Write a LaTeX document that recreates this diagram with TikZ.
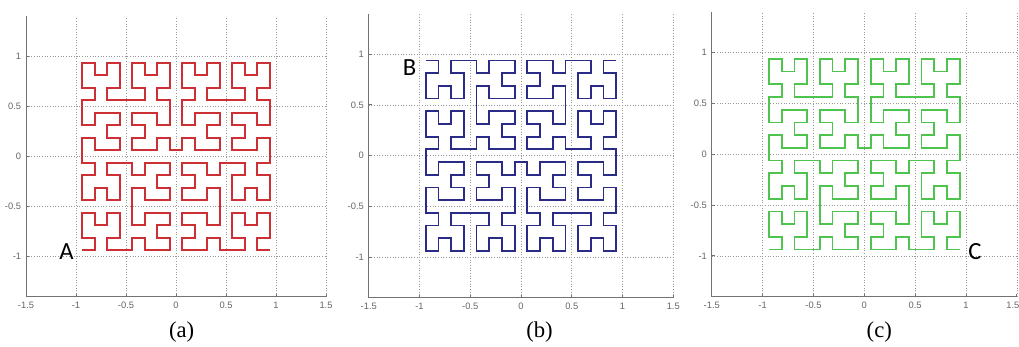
\documentclass[tikz,border=0pt]{standalone}
\usepackage{fontspec}
\setmainfont{Liberation Serif}
\newfontfamily\labfont{Carlito}
\newfontfamily\tickfont{Liberation Sans}
\usetikzlibrary{lindenmayersystems}
\pgfdeclarelindenmayersystem{Hilbert curve}{
  \rule{L -> +RF-LFL-FR+}
  \rule{R -> -LF+RFR+FL-}}
\definecolor{cred}{RGB}{205,48,52}
\definecolor{cblue}{RGB}{42,42,135}
\definecolor{cgreen}{RGB}{78,196,78}
\tikzset{
  grid line/.style={draw=black!40, line width=0.45pt, dash pattern=on 0.6pt off 1.4pt},
  axis line/.style={draw=black!55, line width=0.7pt},
  tick lab/.style={font=\tickfont\fontsize{7}{8}\selectfont, text=black!60, inner sep=0pt},
  curve/.style={line width=1.3pt, line join=miter},
  letter/.style={font=\labfont\fontsize{18.5}{20}\selectfont, inner sep=0pt, anchor=base},
  caption/.style={font=\fontsize{17}{20}\selectfont, inner sep=0pt},
}
% #1 ox, #2 oy, #3 unit length, #4 colour, #5 yscale, #6 step, #7 shift of the last x label
\newcommand\hpanel[7]{%
  \begin{scope}[shift={(#1,#2)}, x=#3, y=#3]
    \foreach \v in {-1,-0.5,0,0.5,1,1.5} \draw[grid line] (\v,-1.4) -- (\v,1.4);
    \foreach \v in {-1,-0.5,0,0.5,1} \draw[grid line] (-1.5,\v) -- (1.5,\v);
    \draw[axis line] (-1.5,1.4) -- (-1.5,-1.4) -- (1.5,-1.4);
    \foreach \v in {-1.5,-1,-0.5,0,0.5,1,1.5} \draw[axis line] (\v,-1.4) -- ++(0,0.03);
    \foreach \v in {-1.5,-1,-0.5,0,0.5,1}
      \node[tick lab, anchor=north, yshift=-4pt] at (\v,-1.4) {\v};
    \node[tick lab, anchor=north, yshift=-4pt, xshift=#7] at (1.5,-1.4) {1.5};
    \foreach \v in {-1,-0.5,0,0.5,1} {
      \draw[axis line] (-1.5,\v) -- ++(0.03,0);
      \node[tick lab, anchor=east, xshift=-3.5pt] at (-1.5,\v) {\v};
    }
    \begin{scope}[yscale=#5, shift={(-0.9375,-0.9375)}]
      \draw[curve, draw=#4, lindenmayer system={Hilbert curve, axiom=L, order=4, step=#6, angle=90}]
        (0,0) lindenmayer system;
    \end{scope}
  \end{scope}
}
\begin{document}
\begin{tikzpicture}[x=0.75pt, y=-0.75pt]
  \useasboundingbox (0,0) rectangle (1019,346);
  \fill[white] (0,0) rectangle (1019,346);
  \hpanel{176}{156.5}{75pt}{cred}{1}{9.375pt}{0pt}
  \hpanel{521}{155.7}{76.125pt}{cblue}{-1}{9.515625pt}{0pt}
  \hpanel{864.3}{154.2}{76.275pt}{cgreen}{1}{9.534375pt}{-3pt}
  \node[letter] (A) at (66.5,259) {A};
  \node[letter] (B) at (409.7,75) {B};
  \node[letter] (C) at (975,259) {C};
  \node[caption] (capa) at (181.7,332.5) {(a)};
  \node[caption] (capb) at (539.5,332.5) {(b)};
  \node[caption] (capc) at (879.3,332.5) {(c)};
\end{tikzpicture}
\end{document}
